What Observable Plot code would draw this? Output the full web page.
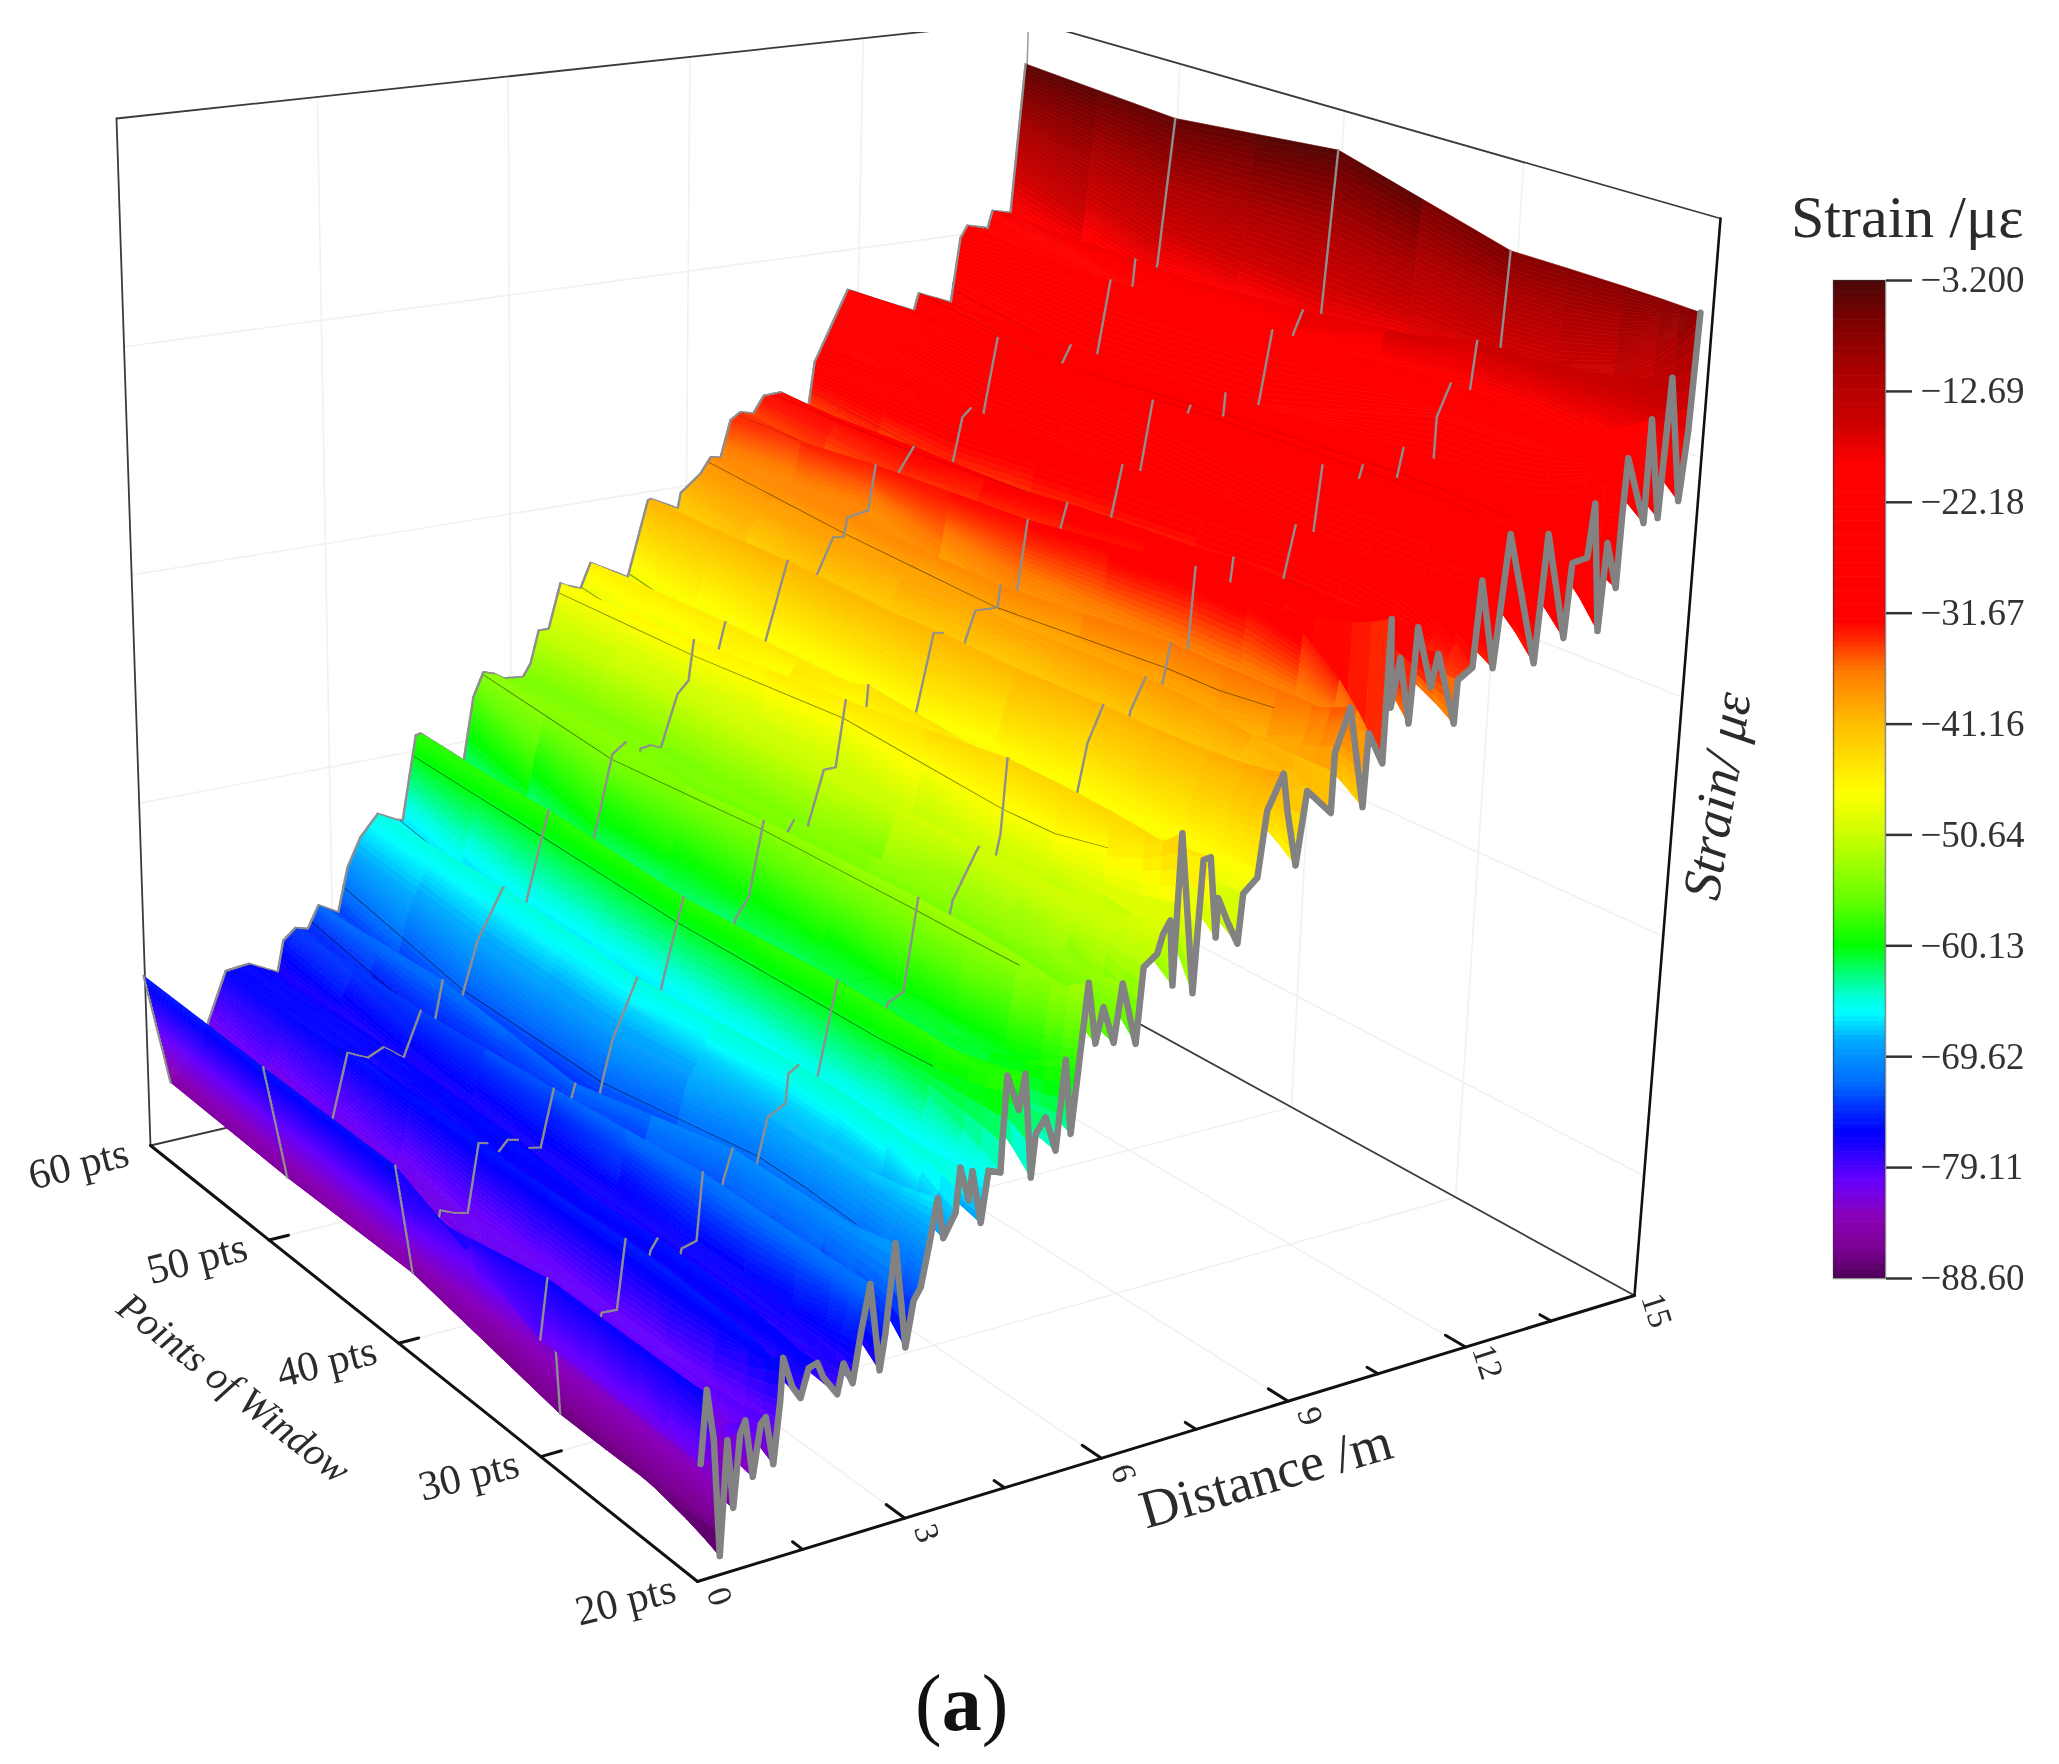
<!DOCTYPE html>
<html><head><meta charset="utf-8">
<script src="https://cdn.jsdelivr.net/npm/d3@7"></script>
<script src="https://cdn.jsdelivr.net/npm/@observablehq/plot@0.6"></script>
<style>
html,body{margin:0;background:#fff}
#page{position:relative;width:2059px;height:1764px;overflow:hidden;background:#fff;font-family:"Liberation Serif",serif;color:#2b2b2b}
#main{position:absolute;left:0;top:32px}
#bar{position:absolute;left:1833px;top:250px}
#ttl{position:absolute;left:1791px;top:184px;font-size:60px;line-height:66px;white-space:nowrap;filter:blur(.5px)}
#cap{position:absolute;left:915px;top:1657px;font-size:80px;line-height:92px;white-space:nowrap;color:#111}
</style></head><body><div id="page"><div id="main"></div><div id="bar"></div><div id="ttl">Strain /με</div><div id="cap">(<b>a</b>)</div></div>
<script>
// ---- values ----
const distance20=[0.02,0.09,0.20,0.31,0.39,0.49,0.57,0.64,0.76,0.86,0.93,1.05,1.13,1.16,1.30,1.42,1.53,1.65,1.74,1.95,2.03,2.17,2.27,2.39,2.56,2.63,2.74,2.93,3.03,3.13,3.23,3.34,3.44,3.61,3.66,3.80,3.84,3.99,4.08,4.26,4.27,4.31,4.50,4.58,4.72,4.77,4.91,5.08,5.18,5.30,5.38,5.48,5.62,5.72,5.90,6.00,6.24,6.31,6.51,6.59,6.69,6.77,6.81,7.09,7.16,7.27,7.41,7.42,7.58,7.76,7.81,8.02,8.12,8.35,8.45,8.62,8.74,9.14,9.15,9.36,9.65,9.68,9.93,9.94,10.01,10.12,10.32,10.38,10.65,10.74,11.07,11.09,11.32,11.39,11.66,11.81,12.35,12.45,12.83,12.89,13.14,13.21,13.41,13.47,13.67,13.69,13.72,14.07,14.08,14.31,14.38,14.65,14.73,14.78];
const strain20=[-81.3,-75.9,-79.8,-88.6,-80.1,-85.3,-79.9,-79.0,-83.4,-79.6,-79.2,-82.9,-78.3,-75.1,-77.5,-78.5,-76.4,-76.2,-77.4,-79.0,-76.8,-78.5,-74.9,-71.3,-78.1,-75.4,-68.7,-76.9,-73.5,-72.6,-69.7,-66.1,-69.3,-67.6,-64.2,-66.9,-64.7,-68.9,-65.0,-65.4,-63.2,-58.0,-60.9,-58.2,-66.4,-63.1,-62.0,-64.8,-57.9,-63.8,-58.7,-52.3,-57.2,-54.5,-57.5,-53.0,-58.0,-52.1,-51.3,-49.8,-48.9,-54.1,-42.2,-55.1,-44.7,-44.6,-51.1,-48.0,-50.0,-52.0,-48.1,-47.1,-41.9,-39.2,-42.5,-46.8,-41.0,-43.2,-38.4,-35.0,-43.3,-37.4,-40.1,-28.5,-35.7,-31.8,-37.3,-29.6,-34.7,-32.1,-38.1,-34.6,-33.8,-26.8,-34.2,-23.4,-34.5,-24.0,-32.9,-26.8,-26.6,-22.2,-32.9,-25.7,-29.6,-23.5,-18.9,-24.6,-16.0,-24.4,-12.8,-23.3,-17.5,-7.7];
const distance30=[-0.01,0.09,0.22,0.28,0.79,0.88,1.10,1.22,1.50,1.59,1.69,1.96,2.05,2.27,2.35,2.58,2.66,2.79,3.09,3.17,3.31,3.58,3.61,3.76,3.97,4.06,4.33,5.03,5.11,5.35,5.54,6.00,6.08,6.46,6.72,6.80,6.87,7.93,8.01,8.14,8.37,8.74,8.82,9.04,9.26,9.34,9.43,9.64,9.71,9.78,10.29,10.37,10.40,11.18,11.26,11.42,11.65,11.73,11.82,12.38,12.45,12.51,13.05,13.12,13.20,13.66,13.74,13.75,13.96,14.24,14.31,14.38,14.73,14.80,14.87];
const strain30=[-80.9,-76.3,-82.4,-87.1,-82.1,-80.1,-80.2,-74.8,-78.3,-76.2,-75.4,-78.8,-76.7,-76.4,-71.1,-74.3,-72.1,-69.8,-73.4,-71.2,-68.0,-67.2,-64.9,-64.4,-67.7,-65.6,-58.3,-63.3,-61.1,-60.5,-53.1,-56.1,-53.9,-50.0,-51.5,-49.3,-43.2,-49.3,-47.1,-43.3,-40.4,-43.6,-41.3,-38.8,-41.3,-39.1,-36.3,-39.7,-37.5,-30.3,-34.3,-32.0,-30.1,-34.9,-32.6,-28.3,-31.3,-29.0,-23.6,-27.8,-25.4,-24.2,-27.9,-25.6,-23.3,-27.2,-24.8,-21.1,-18.4,-21.5,-19.1,-15.0,-18.3,-16.0,-7.6];
const distance40=[-0.02,0.22,0.55,0.64,0.84,1.05,1.22,1.35,1.41,1.50,1.66,1.81,1.88,1.98,2.16,2.36,2.53,2.62,2.69,3.02,3.11,3.26,3.64,3.96,4.05,4.35,5.09,5.18,5.38,5.60,5.90,5.98,6.08,6.23,6.32,6.55,6.74,6.88,7.13,7.22,7.24,7.95,8.04,8.29,8.44,8.74,8.82,8.97,9.34,9.38,9.58,9.67,9.80,10.28,10.36,10.46,11.13,11.21,11.38,11.61,11.70,11.86,12.39,12.48,12.52,13.03,13.11,13.13,13.64,13.73,13.91,14.21,14.29,14.44,14.68,14.77,14.93];
const strain40=[-75.6,-84.6,-82.3,-80.1,-80.6,-80.9,-75.4,-75.6,-78.8,-76.6,-75.7,-75.9,-79.0,-76.8,-77.0,-72.4,-75.9,-73.7,-72.4,-74.9,-72.7,-69.5,-64.8,-67.5,-65.3,-58.9,-63.8,-61.6,-60.1,-53.9,-57.6,-55.3,-54.4,-57.2,-54.9,-50.6,-50.6,-45.0,-48.1,-45.8,-44.1,-49.4,-47.1,-40.7,-40.8,-44.2,-41.8,-39.4,-39.5,-37.6,-40.4,-38.0,-32.3,-35.8,-33.5,-31.4,-36.0,-33.6,-28.9,-31.8,-29.4,-23.6,-27.6,-25.2,-24.6,-28.2,-25.8,-24.0,-27.8,-25.4,-19.0,-22.0,-19.6,-17.6,-20.9,-18.5,-3.5];
const distance50=[-0.03,0.30,0.93,1.03,1.26,1.57,1.82,2.13,2.41,2.54,2.64,2.76,2.99,3.09,3.32,3.73,4.02,4.12,4.46,5.09,5.19,5.49,5.70,5.85,5.95,6.11,6.28,6.55,6.73,6.81,7.13,7.22,7.33,7.91,8.01,8.36,8.78,8.87,9.13,9.30,9.37,9.72,9.83,10.14,10.23,10.48,11.08,11.17,11.32,11.46,11.60,11.69,11.90,12.98,13.07,13.21,13.61,13.70,13.89,14.20,14.30,14.33,14.65,14.74,14.96];
const strain50=[-75.4,-85.1,-82.9,-80.7,-75.8,-76.6,-76.0,-77.3,-73.6,-76.7,-74.5,-71.4,-75.0,-72.7,-68.6,-64.5,-68.0,-65.7,-58.6,-64.2,-61.9,-54.8,-54.0,-57.2,-54.8,-54.7,-55.1,-50.6,-49.6,-46.1,-49.8,-47.4,-45.0,-49.7,-47.3,-40.5,-44.5,-42.1,-39.1,-39.3,-37.5,-37.2,-33.2,-36.7,-34.2,-32.1,-36.6,-34.1,-30.1,-29.4,-32.5,-30.0,-23.3,-29.0,-26.5,-25.0,-28.7,-26.1,-19.5,-22.6,-20.1,-17.7,-21.1,-18.5,-5.1];
const distance60=[-0.02,0.35,0.84,0.98,1.27,1.64,2.10,2.20,2.40,2.60,2.78,3.10,3.26,3.48,3.77,4.09,4.18,4.41,4.49,5.20,5.37,5.54,5.71,5.88,6.20,6.33,6.47,6.64,6.84,6.93,7.18,7.35,7.99,8.33,8.38,8.85,8.90,9.24,9.42,9.59,9.76,9.93,10.16,10.34,10.64,11.14,11.24,11.81,12.41,13.02,13.10,13.70,13.85,13.97,14.35,14.43,14.77,14.97];
const strain60=[-75.1,-84.9,-82.7,-80.2,-76.2,-76.0,-77.3,-74.6,-73.7,-74.0,-72.1,-73.1,-69.3,-66.8,-65.0,-65.9,-66.0,-58.6,-58.5,-61.7,-56.1,-54.0,-54.3,-54.9,-55.1,-54.0,-51.1,-51.1,-47.1,-47.4,-47.9,-45.7,-47.6,-40.8,-40.7,-42.0,-40.6,-39.1,-37.7,-37.9,-34.5,-33.9,-34.2,-32.7,-32.6,-34.3,-30.2,-23.8,-25.3,-26.7,-25.1,-26.4,-20.3,-19.2,-19.7,-18.1,-18.5,-4.2];
// the same ridges and valleys, as they lie along each window's line
const ridge30=[-0.01,0.28,1.22,1.50,2.35,2.58,2.79,3.09,3.76,3.97,4.33,5.03,5.54,6.00,6.46,6.87,7.93,8.37,8.74,9.43,9.64,9.78,10.29,11.18,11.42,11.82,12.38,13.05,13.66,13.96,14.24,14.73,14.87];
const ridge40=[-0.02,0.22,1.22,1.41,2.36,2.53,2.69,3.02,3.64,3.96,4.35,5.09,5.60,5.90,6.55,6.88,7.95,8.29,8.74,9.38,9.58,9.80,10.28,11.13,11.38,11.86,12.39,13.03,13.64,13.91,14.21,14.68,14.93];
const ridge50=[-0.03,0.30,1.26,1.57,2.41,2.54,2.76,2.99,3.73,4.02,4.46,5.09,5.49,5.85,6.55,6.81,7.91,8.36,8.78,9.37,9.72,9.83,10.14,11.08,11.32,11.90,12.40,12.98,13.61,13.89,14.20,14.65,14.96];
const ridge60=[-0.02,0.35,1.27,1.64,2.40,2.60,2.78,3.10,3.77,4.18,4.41,5.20,5.54,5.88,6.47,6.84,7.99,8.33,8.85,9.42,9.59,9.76,10.16,11.14,11.24,11.81,12.41,13.02,13.70,13.85,14.35,14.77,14.97];
const meshDark=[9.34,7.96,7.18,6.81,5.52,4.30,3.98,3.14,2.62];
const meshFaint=[9.9,10.5,11.2,11.9,12.5,13.1,13.7];
const windowTicks=[20,30,40,50,60];
const windowLabels=["20 pts","30 pts","40 pts","50 pts","60 pts"];
const distanceTicks=[0,3,6,9,12,15];
const distanceMinor=[1.5,4.5,7.5,10.5,13.5];
const strainGrid=[-80,-60,-40,-20];
const barTicks=[-3.2,-12.69,-22.18,-31.67,-41.16,-50.64,-60.13,-69.62,-79.11,-88.6];
const barLabels=["−3.200","−12.69","−22.18","−31.67","−41.16","−50.64","−60.13","−69.62","−79.11","−88.60"];
const colourStrain=[-88.6,-86.2,-83.3,-80.2,-76.2,-73.9,-72.2,-68.2,-65.9,-64.7,-62.4,-60.2,-56.2,-50.6,-47.0,-41.0,-36.6,-33.7,-32.3,-18.9,-15.5,-10.9,-6.6,-3.2];
const colourRamp=["#4e0058","#7a0090","#8a00b8","#6600ff","#0000ff","#0033ff","#0066ff","#00aaff","#00ffff","#00ffdd","#00ff70","#00ff00","#66ff00","#ccff00","#ffff00","#ffbb00","#ff7a00","#ff2000","#ff0000","#ff0000","#cc0000","#aa0000","#7a0000","#4a0808"];
const master=ridge30.map((_,i)=>(ridge30[i]+ridge40[i]+ridge50[i]+ridge60[i])/4);
const windows=[
 {win:60,D:distance60,S:strain60,R:ridge60},{win:50,D:distance50,S:strain50,R:ridge50},{win:40,D:distance40,S:strain40,R:ridge40},
 {win:30,D:distance30,S:strain30,R:ridge30},{win:20,D:distance20,S:strain20,R:master}];
windows.forEach(w=>{w.map=d3.scaleLinear(master,w.R);});

// ---- perspective of the 3D box (distance, window, strain) → page position ----
function homography(p){const [x0,y0]=p[0],[x1,y1]=p[1],[x2,y2]=p[2],[x3,y3]=p[3];
 const dx1=x1-x2,dx2=x3-x2,sx=x0-x1+x2-x3,dy1=y1-y2,dy2=y3-y2,sy=y0-y1+y2-y3,D=dx1*dy2-dx2*dy1;
 const g=(sx*dy2-dx2*sy)/D,h=(dx1*sy-sx*dy1)/D,a=x1-x0+g*x1,b=x3-x0+h*x3,d=y1-y0+g*y1,e=y3-y0+h*y3;
 return (u,v)=>{const q=g*u+h*v+1;return [(a*u+b*v+x0)/q,(d*u+e*v+y0)/q];};}
const floorPlane=homography([[697,1581],[1634,1295],[1000,947],[150,1145]]);
const topPlane=homography([[715,369],[1720,218],[1028,20],[116,118]]);
function P(dist,win,strain){const u=dist/15,v=(win-20)/40,w=(strain+90)/90,a=floorPlane(u,v),b=topPlane(u,v);
 return {x:a[0]+(b[0]-a[0])*w,y:a[1]+(b[1]-a[1])*w};}

// ---- surface mesh: rows follow the ridges from window to window ----
function at(D,S,d){if(d<=D[0])return S[0];const n=D.length-1;if(d>=D[n])return S[n];const i=d3.bisectRight(D,d);
 const t=(d-D[i-1])/(D[i]-D[i-1]);return S[i-1]+(S[i]-S[i-1])*t;}
const clampD=(D,d)=>Math.min(D[D.length-1],Math.max(D[0],d));
function onLine(w,m){const d=clampD(w.D,w.map(m));return {d,s:at(w.D,w.S,d)};}
function surf(m,win){
 let a,b,t;
 if(win>=30){const k=windows.findIndex(w=>w.win<=win);
   if(windows[k].win===win){a=b=windows[k];t=0;}else{a=windows[k-1];b=windows[k];t=(a.win-win)/10;}}
 else{a=windows[3];b=windows[4];t=Math.pow((30-win)/10,3);}
 const qa=onLine(a,m),qb=onLine(b,m);
 return {d:qa.d+(qb.d-qa.d)*t,s:qa.s+(qb.s-qa.s)*t};}
const levels=[60,55,50,45,40,35,30,27,24,22,21,20];
const mLo=master[0],mHi=master[master.length-1];
let knots=[...new Set([...master,...meshDark,...meshFaint,...windows.flatMap(w=>w.D.map(d=>w.map.invert(d)))])].filter(m=>m>=mLo&&m<=mHi).sort(d3.ascending);
let rowsM=[knots[0]];
for(let i=1;i<knots.length;i++){const a=rowsM[rowsM.length-1],b=knots[i];if(b-a<0.004)continue;
 let dm=0;for(const w of windows.slice(0,4))dm=Math.max(dm,Math.abs(onLine(w,b).s-onLine(w,a).s));
 const n=Math.ceil(Math.max(dm/0.55,(b-a)/0.06));for(let k=1;k<=n;k++)rowsM.push(a+(b-a)*k/n);}
const pt=(m,win)=>{const q=surf(m,win),p=P(q.d,win,q.s);return {x:p.x,y:p.y,s:q.s};};
const rowPts=rowsM.map(m=>levels.map(l=>pt(m,l)));
const marks=[];
function lineData(list){return list.flatMap((seg,i)=>seg.map(p=>({x:p.x,y:p.y,id:i})));}
const faint=[];
for(const s of strainGrid){faint.push([P(0,60,s),P(15,60,s)],[P(15,60,s),P(15,20,s)]);}
for(const d of distanceTicks.slice(1,5)){faint.push([P(d,60,-90),P(d,60,0)],[P(d,20,-90),P(d,60,-90)]);}
for(const w of windowTicks.slice(1,4)){faint.push([P(15,w,-90),P(15,w,0)],[P(0,w,-90),P(15,w,-90)]);}
marks.push(Plot.line(lineData(faint),{x:"x",y:"y",z:"id",stroke:"#f1f1f1",strokeWidth:1.6,clip:true}));
marks.push(Plot.line(lineData([[P(15,60,-90),P(15,60,0)]]),{x:"x",y:"y",z:"id",stroke:"#999",strokeWidth:1.5,clip:true}));
const thin=[[P(0,60,-90),P(0,60,0)],[P(0,60,0),P(15,60,0)],[P(15,60,0),P(15,20,0)],[P(0,60,-90),P(15,60,-90)],[P(15,60,-90),P(15,20,-90)]];
marks.push(Plot.line(lineData(thin),{x:"x",y:"y",z:"id",stroke:"#3a3a3a",strokeWidth:1.8,clip:true}));
marks.push(Plot.line(lineData([[P(15,20,-90),P(15,20,0)]]),{x:"x",y:"y",z:"id",stroke:"#111",strokeWidth:2.6}));
const axisLines=[[P(0,60,-90),P(0,20,-90)],[P(0,20,-90),P(15,20,-90)]];
for(const w of windowTicks.slice(1,4))axisLines.push([P(0,w,-90),P(0.3,w,-90)]);
for(const d of distanceTicks.slice(1,5))axisLines.push([P(d,20,-90),P(d,21.1,-90)]);
for(const d of distanceMinor)axisLines.push([P(d,20,-90),P(d,20.6,-90)]);
marks.push(Plot.line(lineData(axisLines),{x:"x",y:"y",z:"id",stroke:"#111",strokeWidth:3}));
const meshKind=new Map();
meshDark.forEach(d=>meshKind.set(d,"dark"));meshFaint.forEach(d=>meshKind.set(d,"faint"));
function nearestRow(m){let b=0;rowsM.forEach((r,i)=>{if(Math.abs(r-m)<Math.abs(rowsM[b]-m))b=i;});return b;}
const rowMesh=new Map();meshKind.forEach((k,m)=>rowMesh.set(nearestRow(m),k));
const cut=levels.indexOf(24)+1;
for(let j=rowsM.length-2;j>=0;j--){
 const cells=[];
 for(let k=0;k<levels.length-1;k++){
  const a=rowPts[j][k],b=rowPts[j+1][k],c=rowPts[j+1][k+1],e=rowPts[j][k+1];
  const strain=(a.s+b.s+c.s+e.s)/4,id=k;
  for(const p of [a,b,c,e,a])cells.push({x:p.x,y:p.y,id,strain});}
 marks.push(Plot.line(cells,{x:"x",y:"y",z:"id",fill:"strain",stroke:"strain",strokeWidth:0.7}));
 const m=rowMesh.get(j);
 if(m){marks.push(Plot.line(rowPts[j].slice(0,cut),{x:"x",y:"y",stroke:m==="dark"?"#000":"#700000",strokeOpacity:m==="dark"?0.6:0.3,strokeWidth:m==="dark"?2:2.2}));}
 const gray=[];
 for(const l of [0,2,4,6]){gray.push({...rowPts[j][l],id:l},{...rowPts[j+1][l],id:l});}
 marks.push(Plot.line(gray,{x:"x",y:"y",z:"id",stroke:"#8f8f8f",strokeWidth:2.4,strokeLinecap:"round"}));
}
const front=distance20.map((d,i)=>P(d,20,strain20[i]));
marks.push(Plot.line(front,{x:"x",y:"y",stroke:"#828282",strokeWidth:6.5,strokeLinejoin:"round"}));
const txt={fontFamily:"Liberation Serif",fill:"#2b2b2b"};
marks.push(Plot.text(windowTicks.map((w,i)=>({...P(0,w,-90),t:windowLabels[i]})),{x:"x",y:"y",text:"t",dx:-72,dy:19,rotate:-14,fontSize:42,...txt}));
marks.push(Plot.text(distanceTicks.map(d=>({...P(d,20,-90),t:String(d)})),{x:"x",y:"y",text:"t",dx:22,dy:15,rotate:72,fontSize:34,...txt}));
marks.push(Plot.text([{...P(0,40,-90),t:"Points of Window"}],{x:"x",y:"y",text:"t",dx:-165,dy:45,rotate:38,fontSize:40,fontStyle:"italic",...txt}));
marks.push(Plot.text([{...P(7.5,20,-90),t:"Distance /m"}],{x:"x",y:"y",text:"t",dx:70,dy:47,rotate:-16,fontSize:54,...txt}));
marks.push(Plot.text([{...P(15,20,-45),t:"Strain/ με"}],{x:"x",y:"y",text:"t",dx:40,dy:39,rotate:-81,fontSize:54,fontStyle:"italic",...txt}));
const colorOpt={type:"linear",domain:colourStrain,range:colourRamp,clamp:true};
const chart=Plot.plot({width:2059,height:1732,margin:0,
 x:{domain:[0,2059],range:[0,2059],axis:null},y:{domain:[32,1764],range:[0,1732],axis:null},
 color:colorOpt,style:{background:"transparent",filter:"blur(0.7px)",overflow:"visible"},marks});
document.getElementById("main").append(chart);
const bins=d3.range(-88.6,-3.2,0.4).map(a=>({a,b:Math.min(a+0.45,-3.2),m:a+0.2}));
const bar=Plot.plot({width:226,height:1058,marginLeft:0,marginRight:174,marginTop:30,marginBottom:30,
 x:{domain:[0,1],axis:null},y:{domain:[-88.6,-3.2],axis:null},color:colorOpt,
 style:{background:"transparent",fontFamily:"Liberation Serif",filter:"blur(0.5px)",overflow:"visible"},
 marks:[Plot.rect(bins,{x1:0,x2:1,y1:"a",y2:"b",fill:"m"}),
  Plot.axisY({anchor:"right",ticks:barTicks,tickSize:26,tickPadding:9,tickFormat:v=>barLabels[barTicks.indexOf(v)],label:null,fontSize:37,stroke:"#333",strokeWidth:2.5,color:"#333"}),
  Plot.frame({stroke:"#333",strokeOpacity:0.55,strokeWidth:1.5})]});
document.getElementById("bar").append(bar);
</script></body></html>
